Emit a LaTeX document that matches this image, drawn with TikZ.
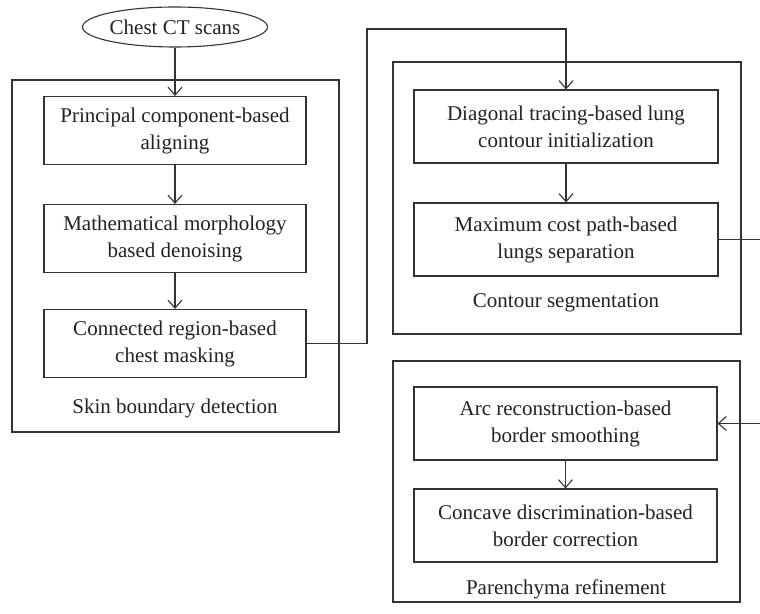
\documentclass[tikz,border=0pt]{standalone}
\usepackage{fontspec}
\setmainfont{Liberation Serif}
\usetikzlibrary{arrows.meta,shapes.geometric}
\definecolor{ln}{HTML}{333333}
\definecolor{tx}{HTML}{222222}
\begin{document}
\begin{tikzpicture}[x=0.5pt,y=-0.5pt,
  every node/.style={font=\fontsize{10.5}{13.5}\selectfont, text=tx},
  stepbox/.style={draw=ln, line width=0.55pt, align=center, inner sep=0pt},
  leftbox/.style={stepbox, minimum width=131pt, minimum height=34pt},
  rightbox/.style={stepbox, minimum width=152pt, minimum height=36.5pt},
  groupbox/.style={draw=ln, line width=0.55pt},
  conn/.style={draw=ln, line width=0.55pt},
  arr/.style={conn, -{Straight Barb[length=4pt,width=7pt]}}]
\clip (0,0) rectangle (760,614);
\fill[white] (0,0) rectangle (760,614);
% group frames
\draw[groupbox] (12,80) rectangle (339,432);
\draw[groupbox] (393,62) rectangle (741,334);
\draw[groupbox] (393,361) rectangle (740,602);
% nodes
\node[ellipse, draw=ln, line width=0.55pt, minimum width=92.5pt, minimum height=20pt, inner sep=0pt] (ell) at (175,27) {Chest CT scans};
\node[leftbox] (b1) at (175,130.5) {Principal component-based\\aligning};
\node[leftbox] (b2) at (175,238.5) {Mathematical morphology\\based denoising};
\node[leftbox] (b3) at (175,343.5) {Connected region-based\\chest masking};
\node (l1) at (175,408) {Skin boundary detection};
\node[rightbox] (b4) at (566,126.5) {Diagonal tracing-based lung\\contour initialization};
\node[rightbox] (b5) at (566,239.5) {Maximum cost path-based\\lungs separation};
\node (l2) at (566,303) {Contour segmentation};
\node[rightbox, minimum width=151.5pt] (b6) at (565.5,423.5) {Arc reconstruction-based\\border smoothing};
\node[rightbox, minimum width=151.5pt] (b7) at (565.5,525.5) {Concave discrimination-based\\border correction};
\node (l3) at (566,589) {Parenchyma refinement};
% connectors
\coordinate (c1) at (367,343.5);
\coordinate (c2) at (367,29);
\coordinate (c3) at (566,29);
\coordinate (c4) at (763,239.5);
\coordinate (c5) at (763,423.5);
\draw[arr] (ell.south) -- (b1.north);
\draw[arr] (b1.south) -- (b2.north);
\draw[arr] (b2.south) -- (b3.north);
\draw[arr] (b3.east) -- (c1) -- (c2) -- (c3) -- (b4.north);
\draw[arr] (b4.south) -- (b5.north);
\draw[arr] (b5.east) -- (c4) -- (c5) -- (b6.east);
\draw[arr] (b6.south) -- (b7.north);
\end{tikzpicture}
\end{document}
